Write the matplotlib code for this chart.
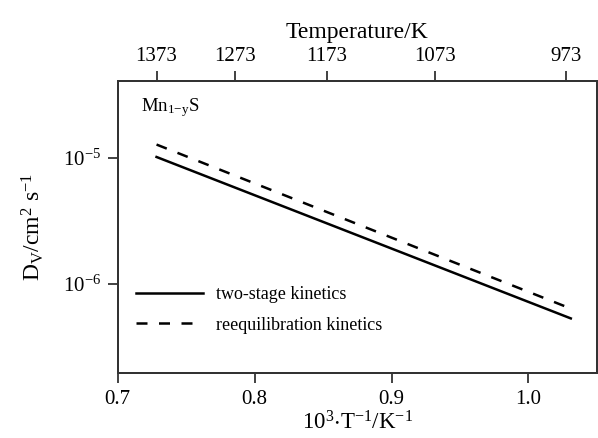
# Diffusion coefficient of vacancies in Mn(1-y)S vs reciprocal temperature
import numpy as np
import matplotlib
matplotlib.use('Agg')
import matplotlib.pyplot as plt
from matplotlib.ticker import NullLocator

plt.rcParams['font.family'] = ['Liberation Serif', 'DejaVu Serif']
plt.rcParams['mathtext.fontset'] = 'custom'
plt.rcParams['mathtext.rm'] = 'Liberation Serif'
plt.rcParams['mathtext.it'] = 'Liberation Serif:italic'
plt.rcParams['mathtext.default'] = 'regular'

# data (endpoints of straight Arrhenius lines)
inv_T = [0.7283, 1.031]                # 10^3/T, K^-1
D_two_stage = [1.02e-5, 5.35e-7]       # cm^2/s
D_reequil = [1.28e-5, 6.4e-7]          # cm^2/s

x_ticks = [0.7, 0.8, 0.9, 1.0]
y_ticks = [1e-6, 1e-5]
top_temps = [1373, 1273, 1173, 1073, 973]

fig = plt.figure(figsize=(5.98, 4.38), dpi=100)
ax = fig.add_axes([0.197, 0.148, 0.801, 0.667])

ax.plot(inv_T, D_two_stage, color='black', lw=1.8, label='two-stage kinetics')
ax.plot(inv_T, D_reequil, color='black', lw=1.8, ls=(0, (4.4, 4.6)),
        label='reequilibration kinetics')

ax.set_yscale('log')
ax.set_xlim(0.7, 1.05)
ax.set_ylim(10**-6.706, 10**-4.389)
ax.set_xticks(x_ticks)
ax.set_xticklabels(['%.1f' % v for v in x_ticks])
ax.set_yticks(y_ticks)
ax.yaxis.set_minor_locator(NullLocator())

for s in ax.spines.values():
    s.set_linewidth(1.4)
    s.set_color('#333333')
ax.tick_params(direction='out', length=7, width=1.3, color='#333333',
               labelsize=15, pad=5)

ax.set_xlabel(r'10$^3$$\cdot$T$^{-1}$/K$^{-1}$', fontsize=16.5, labelpad=2)
ax.set_ylabel(r'D$_V$/cm$^2$ s$^{-1}$', fontsize=17, labelpad=12)

# top axis: temperature
ax2 = ax.twiny()
ax2.set_xlim(ax.get_xlim())
ax2.set_xticks([1000.0 / t for t in top_temps])
ax2.set_xticklabels([str(t) for t in top_temps])
ax2.tick_params(direction='out', length=7, width=1.3, color='#333333',
                labelsize=15, pad=4)
ax2.set_xlabel('Temperature/K', fontsize=17, labelpad=6)
for s in ax2.spines.values():
    s.set_linewidth(1.4)
    s.set_color('#333333')

ax.text(0.048, 0.91, r'Mn$_{1\mathrm{-}y}$S', transform=ax.transAxes,
        fontsize=13.5, va='center', ha='left')

ax.legend(loc='lower left', bbox_to_anchor=(0.005, 0.08), frameon=False,
          fontsize=13, handlelength=3.7, handletextpad=0.7, labelspacing=0.75)

fig.savefig('out.png', dpi=100)
